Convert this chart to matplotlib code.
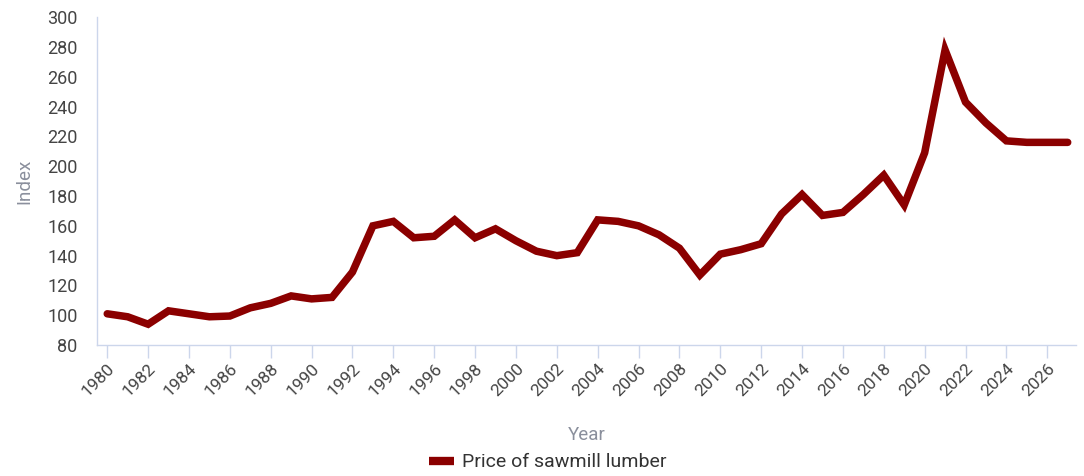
import numpy as np
import matplotlib.pyplot as plt
from matplotlib.lines import Line2D

plt.rcParams["font.family"] = ["Roboto", "DejaVu Sans"]

years = list(range(1980, 2028))
price = [101, 99, 94, 103, 101, 99, 99.5, 105, 108, 113, 111, 112,
         129, 160, 163, 152, 153, 164, 152, 158, 150, 143, 140, 142,
         164, 163, 160, 154, 145, 127, 141, 144, 148, 168, 181, 167,
         169, 181, 194, 174, 209, 278, 243, 229, 217, 216, 216, 216]
label = "Price of sawmill lumber"

axis_col = "#ccd6eb"
text_col = "#444444"
title_col = "#8a8f9c"

fig = plt.figure(figsize=(10.84, 4.76), dpi=100)
ax = fig.add_axes([0.0895, 0.275, 0.903, 0.689])
ax.plot(years, price, color="#8b0000", lw=5.4, solid_joinstyle="miter",
        solid_capstyle="round", label=label)

ax.set_xlim(1979.5, 2027.4)
ax.set_ylim(80, 300)
ax.set_yticks(np.arange(80, 301, 20))
ax.set_xticks(range(1980, 2027, 2))
ax.set_xticklabels([str(y) for y in range(1980, 2027, 2)], rotation=45,
                   ha="right", rotation_mode="anchor")

for s in ["top", "right"]:
    ax.spines[s].set_visible(False)
for s in ["left", "bottom"]:
    ax.spines[s].set_color(axis_col)
    ax.spines[s].set_linewidth(1)
ax.tick_params(axis="x", colors=axis_col, length=9.5, width=1, labelcolor=text_col,
               labelsize=12.5, pad=2)
ax.tick_params(axis="y", length=0, labelcolor=text_col, labelsize=13, pad=14)

ax.set_ylabel("Index", color=title_col, fontsize=13.5, labelpad=10)
ax.set_xlabel("Year", color=title_col, fontsize=13.5, labelpad=19)

handle = Line2D([], [], color="#8b0000", lw=6, solid_capstyle="butt")
fig.legend([handle], [label], loc="lower center", bbox_to_anchor=(0.505, -0.027),
           frameon=False, fontsize=14, handlelength=1.3, handletextpad=0.4,
           labelcolor="#333333")

fig.savefig("out.png", dpi=100)
